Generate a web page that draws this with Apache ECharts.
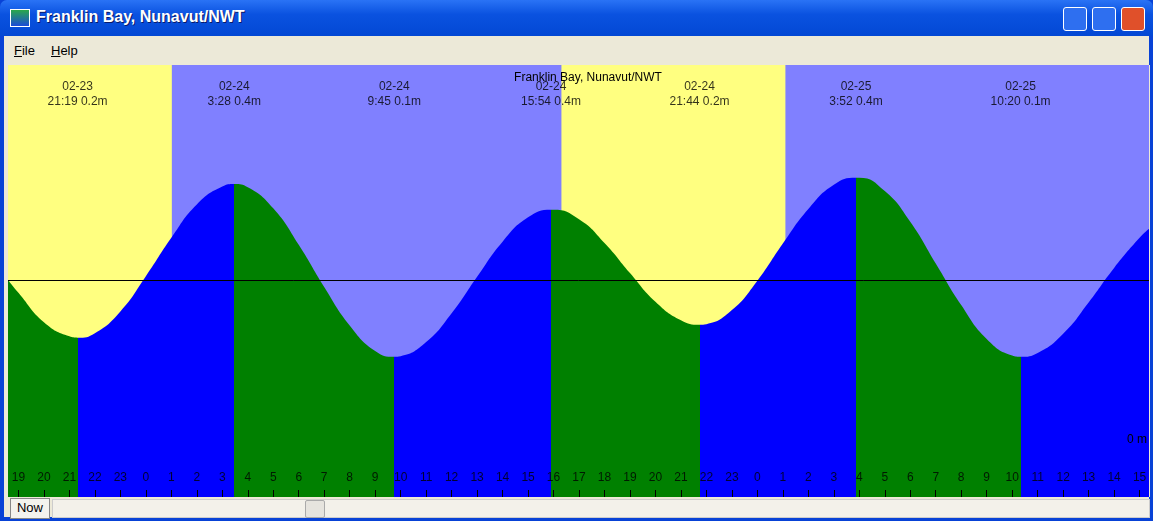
<!DOCTYPE html>
<html lang="en">
<head>
<meta charset="UTF-8">
<title>Franklin Bay, Nunavut/NWT</title>
<script src="https://cdn.jsdelivr.net/npm/echarts@6/dist/echarts.min.js"></script>
<style>
body{margin:0;width:1153px;height:521px;overflow:hidden;background:#0842d6;font-family:"Liberation Sans",Arial,sans-serif;position:relative}
#titlebar{position:absolute;left:0;top:0;width:1153px;height:36px;background:linear-gradient(#2a73f5,#0a52e0 40%,#0348d4);border-radius:7px 7px 0 0}
#titlebar .t{position:absolute;left:36px;top:8px;color:#fff;font-weight:bold;font-size:16px;text-shadow:1px 1px #0a1a6a}
#titlebar .ico{position:absolute;left:10px;top:9px;width:18px;height:16px;background:linear-gradient(#2aa84a,#1a4ad8);border:1px solid #fff}
.btn{position:absolute;top:7px;width:22px;height:22px;border:1px solid #fff;border-radius:3px;background:#2e6ff0}
#menu{position:absolute;left:4px;top:36px;width:1145px;height:29px;background:#ece9d8;font-size:13px}
#menu span{position:absolute;top:7px}
#chart{position:absolute;left:4px;top:65px;width:1146px;height:432px;background:#ece9d8}
#bottom{position:absolute;left:4px;top:497px;width:1145px;height:20px;background:#ece9d8}
#now{position:absolute;left:6px;top:1px;width:38px;height:19px;border:1px solid #888;background:#f4f3ee;font-size:13px;text-align:center;line-height:18px}
#scroll{position:absolute;left:48px;top:2px;width:1096px;height:17px;background:#f3f1ea;border:1px solid #ccc}
#thumb{position:absolute;left:252px;top:0;width:18px;height:16px;background:#e6e4de;border:1px solid #aaa;border-radius:2px}
</style>
</head>
<body>
<div id="titlebar"><div class="ico"></div><div class="t">Franklin Bay, Nunavut/NWT</div>
<div class="btn" style="left:1063px"></div><div class="btn" style="left:1092px"></div><div class="btn" style="left:1121px;background:#e0502a"></div></div>
<div id="menu"><span style="left:10px"><u>F</u>ile</span><span style="left:47px"><u>H</u>elp</span></div>
<div id="chart"><div id="tide" style="position:absolute;left:4px;top:0;width:1142px;height:432px"></div></div>
<div id="bottom"><div id="now">Now</div><div id="scroll"><div id="thumb"></div></div></div>
<script type="text/javascript">
// hours since 02-23 00:00
var viewStart = 18.59, viewEnd = 63.37;
var tideTimes = [18.59,19,20,21,21.32,22,23,24,25,26,27,27.47,28,29,30,31,32,33,33.75,34,35,36,37,38,39,39.9,40,41,42,43,44,45,45.73,46,47,48,49,50,51,51.87,52,53,54,55,56,57,58,58.33,59,60,61,62,63,63.37];
var tideHeights = [0.25,0.23,0.184,0.162,0.16,0.167,0.201,0.256,0.316,0.368,0.396,0.40,0.395,0.362,0.305,0.239,0.179,0.139,0.13,0.131,0.153,0.198,0.255,0.31,0.348,0.36,0.36,0.345,0.308,0.261,0.216,0.187,0.18,0.181,0.203,0.249,0.307,0.361,0.399,0.41,0.41,0.389,0.341,0.276,0.211,0.158,0.132,0.13,0.136,0.166,0.215,0.269,0.316,0.33];
var extremeTimes = [21.32,27.47,33.75,39.9,45.73,51.87,58.33];
var extremeLabels = ['02-23\n21:19 0.2m','02-24\n3:28 0.4m','02-24\n9:45 0.1m','02-24\n15:54 0.4m','02-24\n21:44 0.2m','02-25\n3:52 0.4m','02-25\n10:20 0.1m'];
var nightRanges = [[18.59,25.02],[40.31,49.1]];
var meanLevel = 0.247;
var hourTicks = [];
for (var h = 19; h <= 63; h++) hourTicks.push(h);

var pieces = [];
var edges = [-100].concat(extremeTimes, [100]);
for (var i = 0; i < edges.length - 1; i++) {
	pieces.push({gte: edges[i], lt: edges[i+1], color: i % 2 === 0 ? '#008000' : '#0000ff'});
}

var chart = echarts.init(document.getElementById('tide'));
chart.setOption({
	animation: false,
	title: {text: 'Franklin Bay, Nunavut/NWT', left: 575, top: 2, textAlign: 'center',
		textStyle: {fontSize: 12, fontWeight: 'normal', color: '#000', fontFamily: 'Liberation Sans'}},
	grid: {left: 0, right: 0, top: 0, bottom: 0, show: true, backgroundColor: '#8080ff', borderWidth: 0},
	xAxis: {
		type: 'value', min: viewStart, max: viewEnd, splitLine: {show: false}, z: 10,
		axisLine: {show: false, onZero: false},
		axisTick: {show: true, inside: true, length: 7, customValues: hourTicks, lineStyle: {color: '#000'}},
		axisLabel: {show: false}
	},
	yAxis: {
		type: 'value', min: -0.089, max: 0.586, position: 'right', splitLine: {show: false}, z: 10,
		axisLine: {show: false}, axisTick: {show: false},
		axisLabel: {inside: true, customValues: [0], fontSize: 12, color: '#000', margin: 2,
			fontFamily: 'Liberation Sans', formatter: function () { return '0 m'; }}
	},
	visualMap: {show: false, type: 'piecewise', dimension: 0, seriesIndex: 0, pieces: pieces},
	series: [
		{
			type: 'line', z: 3, symbol: 'none', smooth: 0.5,
			data: tideTimes.map(function (t, i) { return [t, tideHeights[i]]; }),
			lineStyle: {width: 0}, areaStyle: {opacity: 1, origin: 'start'},
			markLine: {silent: true, symbol: 'none', label: {show: false},
				lineStyle: {color: '#000', width: 1, type: 'solid'}, data: [{yAxis: meanLevel}]}
		},
		{
			type: 'line', z: 1, data: [], silent: true,
			markArea: {silent: true, itemStyle: {color: '#ffff80'},
				data: nightRanges.map(function (r) { return [{xAxis: r[0]}, {xAxis: r[1]}]; })}
		},
		{
			type: 'scatter', z: 5, symbolSize: 0, silent: true,
			data: extremeTimes.map(function (t) { return [t, 0.54]; }),
			label: {show: true, position: 'inside', color: '#000', fontSize: 12, lineHeight: 15,
				fontFamily: 'Liberation Sans',
				formatter: function (p) { return extremeLabels[p.dataIndex]; }}
		},
		{
			type: 'scatter', z: 5, symbolSize: 0, silent: true,
			data: hourTicks.map(function (t) { return [t, -0.059]; }),
			label: {show: true, position: 'inside', color: '#000', fontSize: 12,
				fontFamily: 'Liberation Sans',
				formatter: function (p) { return String(hourTicks[p.dataIndex] % 24); }},
			labelLayout: {hideOverlap: false}
		}
	]
});
</script>
</body>
</html>
